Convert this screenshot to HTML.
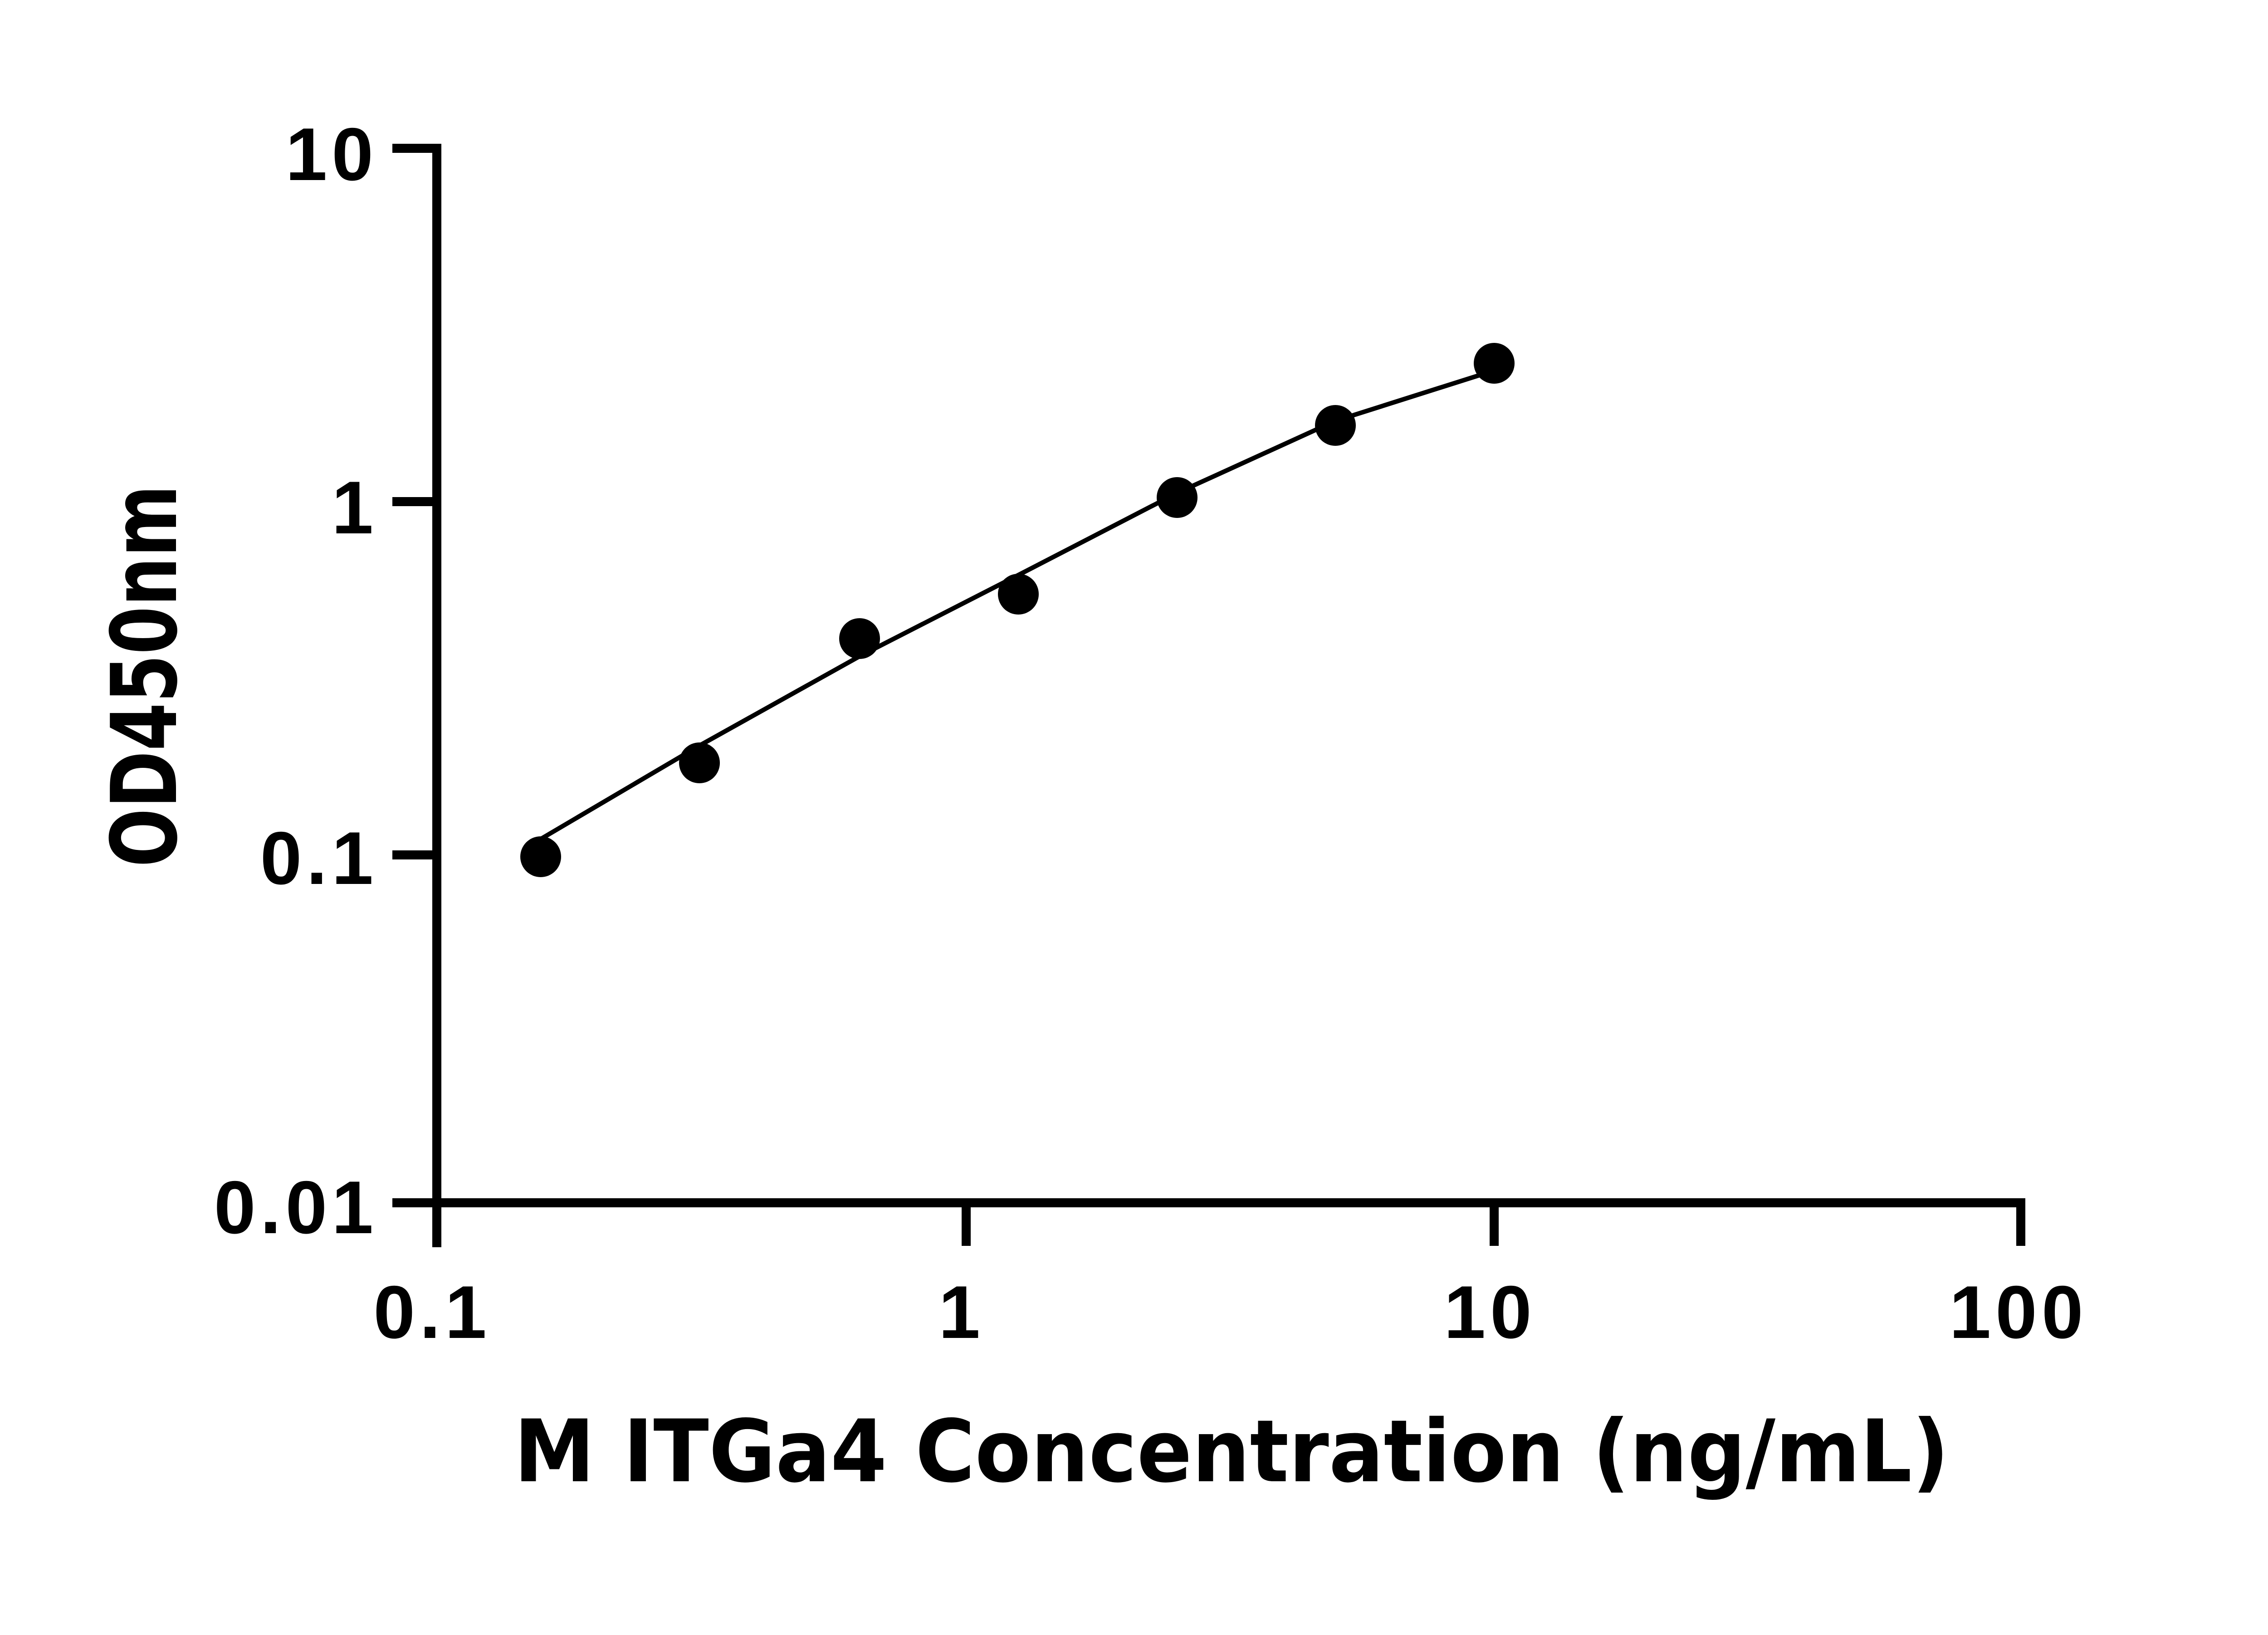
<!DOCTYPE html>
<html><head><style>body{margin:0;background:#fff}</style></head><body>
<svg width="5142" height="3600" viewBox="0 0 5142 3600" xmlns="http://www.w3.org/2000/svg">
<g stroke="#000" stroke-width="20" fill="none">
<line x1="963" y1="317" x2="963" y2="2750"/>
<line x1="953" y1="2652" x2="4455" y2="2652"/>
<line x1="865" y1="327" x2="963" y2="327"/>
<line x1="865" y1="1106" x2="963" y2="1106"/>
<line x1="865" y1="1885" x2="963" y2="1885"/>
<line x1="865" y1="2652" x2="963" y2="2652"/>
<line x1="2130" y1="2652" x2="2130" y2="2747"/>
<line x1="3294" y1="2652" x2="3294" y2="2747"/>
<line x1="4455" y1="2642" x2="4455" y2="2747"/>
</g>
<polyline fill="none" stroke="#000" stroke-width="10" points="1192,1850 1542,1644 1895,1447 2245,1268 2595,1087 2944,928 3294,817"/>
<g fill="#000">
<circle cx="1192" cy="1889" r="45"/><circle cx="1542" cy="1682" r="45"/><circle cx="1895" cy="1408" r="45"/><circle cx="2245" cy="1310" r="45"/><circle cx="2595" cy="1097" r="45"/><circle cx="2944" cy="938" r="45"/><circle cx="3294" cy="801" r="45"/>
</g>
<g font-family="Liberation Sans, sans-serif" font-weight="bold" font-size="165" letter-spacing="10" fill="#000">
<text x="833" y="397" text-anchor="end">10</text>
<text x="833" y="1176" text-anchor="end">1</text>
<text x="833" y="1949" text-anchor="end">0.1</text>
<text x="833" y="2719" text-anchor="end">0.01</text>
<text x="953" y="2950" text-anchor="middle">0.1</text>
<text x="2120" y="2950" text-anchor="middle">1</text>
<text x="3285" y="2950" text-anchor="middle">10</text>
<text x="4450" y="2950" text-anchor="middle">100</text>
</g>
<text x="1133" y="3266" textLength="3164" lengthAdjust="spacingAndGlyphs" font-family="DejaVu Sans, sans-serif" font-weight="bold" font-size="190" fill="#000">M ITGa4 Concentration (ng/mL)</text>
<text transform="translate(388,1491) rotate(-90)" x="-421" y="0" textLength="843" lengthAdjust="spacingAndGlyphs" font-family="DejaVu Sans, sans-serif" font-weight="bold" font-size="200" fill="#000">OD450nm</text>
</svg>
</body></html>
